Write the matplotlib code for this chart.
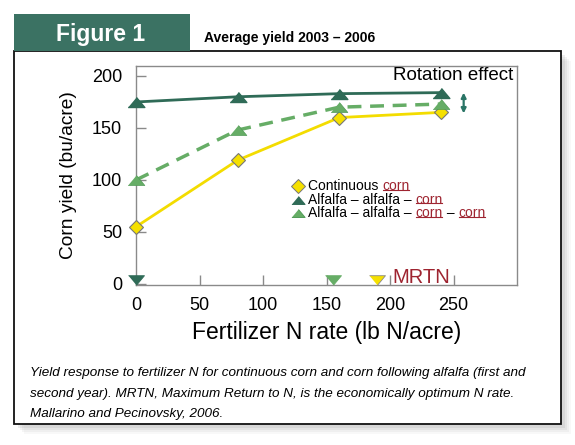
import matplotlib
matplotlib.use('Agg')
import matplotlib.pyplot as plt
from matplotlib.patches import Rectangle
from matplotlib.lines import Line2D

plt.rcParams['font.family'] = ['Liberation Sans', 'DejaVu Sans']

# data
n_rate = [0, 80, 160, 240]
continuous = [55, 119, 160, 165]
alf_corn = [175, 180, 183, 184]
alf_corn_corn = [100, 148, 170, 173]
mrtn_rate = {'alf_corn': 0, 'alf_corn_corn': 155, 'continuous': 190}

xticks = [0, 50, 100, 150, 200, 250]
yticks = [0, 50, 100, 150, 200]

yellow = '#f3dc00'
dark = '#2f6b57'
light = '#66ad66'
red = '#9e2430'
teal = '#3b7263'

tri_up = [(-1, -0.6), (1, -0.6), (0, 0.6)]
tri_dn = [(-1, 0.6), (1, 0.6), (0, -0.6)]

fig = plt.figure(figsize=(5.75, 4.45), dpi=100)
W, H = 575, 445

def fx(p):
    return p / W

def fy(p):
    return 1 - p / H

# drop shadow + frame + tab
for i, a in enumerate([0.05, 0.07, 0.09, 0.12]):
    d = 4 + (3 - i) * 2
    fig.patches.append(Rectangle((fx(14 + d), fy(424 + d)), fx(547), 373 / H,
                                 transform=fig.transFigure, facecolor='#7a7a7a',
                                 edgecolor='none', alpha=a, zorder=0))
fig.patches.append(Rectangle((fx(14), fy(424)), fx(547), 373 / H,
                             transform=fig.transFigure, facecolor='white',
                             edgecolor='#111111', lw=1.3, zorder=1))
fig.patches.append(Rectangle((fx(14), fy(51)), fx(176), 37 / H,
                             transform=fig.transFigure, facecolor=teal,
                             edgecolor='none', zorder=1))
fig.text(fx(101), fy(40.5), 'Figure 1', color='white', fontsize=16.5,
         fontweight='bold', ha='center', va='baseline')
fig.text(fx(204), fy(42), 'Average yield 2003 \u2013 2006',
         fontweight='bold', fontsize=10, ha='left', va='baseline')

ax = fig.add_axes([fx(136), fy(285), fx(381), 219 / H])
ax.set_zorder(2)
ax.set_xlim(0, 300)
ax.set_ylim(-1, 209.6)
for s in ax.spines.values():
    s.set_color('#8a8a8a')
    s.set_linewidth(1.0)
ax.set_xticks(xticks)
ax.set_yticks(yticks)
ax.tick_params(direction='in', length=7, width=1, color='#8a8a8a',
               labelsize=13, top=False, right=False)
ax.tick_params(axis='y', pad=10)
ax.tick_params(axis='x', pad=9)

ax.plot(n_rate, continuous, color=yellow, lw=2, zorder=3)
ax.plot(n_rate, continuous, ls='none', marker='D', ms=7.5, mfc='#f5e000',
        mec='#777777', mew=0.8, zorder=5, clip_on=False)
ax.plot(n_rate, alf_corn, color=dark, lw=2, zorder=3)
ax.plot(n_rate, alf_corn, ls='none', marker=tri_up, ms=12, mfc=dark,
        mec=dark, zorder=5, clip_on=False)
ax.plot(n_rate, alf_corn_corn, color=light, lw=2.5, ls=(0, (4, 2.5)), zorder=3)
ax.plot(n_rate, alf_corn_corn, ls='none', marker=tri_up, ms=12, mfc=light,
        mec='#4f9a55', mew=0.5, zorder=5, clip_on=False)

# MRTN markers along the bottom
for key, c in [('alf_corn', dark), ('alf_corn_corn', light), ('continuous', '#f5e000')]:
    ax.plot([mrtn_rate[key]], [3.6], ls='none', marker=tri_dn, ms=11.5, mfc=c,
            mec='#888888' if key == 'continuous' else c, mew=0.6, zorder=6,
            clip_on=False)
ax.text(202, 1.2, 'MRTN', color=red, fontsize=14.5, ha='left', va='baseline')

ax.text(0.99, 0.997, 'Rotation effect', transform=ax.transAxes, fontsize=13.5,
        ha='right', va='top')
ax.annotate('', xy=(258, 164), xytext=(258, 184),
            arrowprops=dict(arrowstyle='<|-|>', color='#2a7566', lw=1.6,
                            mutation_scale=7, shrinkA=0, shrinkB=0))

# legend, drawn by hand so "corn" can be red and underlined
rows = [
    ('D', '#f5e000', '#777777', ['Continuous ', ('corn',)]),
    (tri_up, dark, dark, ['Alfalfa \u2013 alfalfa \u2013 ', ('corn',)]),
    (tri_up, light, '#4f9a55', ['Alfalfa \u2013 alfalfa \u2013 ', ('corn',), ' \u2013 ', ('corn',)]),
]
row_y = [0.452, 0.390, 0.329]
red_texts = []
for (mk, fc, ec, parts), y in zip(rows, row_y):
    ax.plot([0.425], [y], transform=ax.transAxes, ls='none', marker=mk,
            ms=7 if mk == 'D' else 9.5, mfc=fc, mec=ec, mew=0.7, zorder=6)
    prev = None
    for p in parts:
        is_red = isinstance(p, tuple)
        s = p[0] if is_red else p
        col = red if is_red else 'black'
        if prev is None:
            t = ax.text(0.452, y, s, transform=ax.transAxes, fontsize=10,
                        color=col, ha='left', va='center')
        else:
            t = ax.annotate(s, xy=(1, 0), xycoords=prev, fontsize=10,
                            color=col, ha='left', va='bottom')
        if is_red:
            red_texts.append(t)
        prev = t

# caption
caption = ['Yield response to fertilizer N for continuous corn and corn following alfalfa (first and',
           'second year). MRTN, Maximum Return to N, is the economically optimum N rate.',
           'Mallarino and Pecinovsky, 2006.']
for i, line in enumerate(caption):
    fig.text(fx(30), fy(376 + 20.5 * i), line, style='italic',
             fontsize=9.7, ha='left', va='baseline')

ax.set_ylabel('Corn yield (bu/acre)', fontsize=13.8, labelpad=11)
ax.set_xlabel('Fertilizer N rate (lb N/acre)', fontsize=16.5, labelpad=5)

fig.canvas.draw()
r = fig.canvas.get_renderer()
inv = fig.transFigure.inverted()
for t in red_texts:
    bb = t.get_window_extent(r)
    (x0, y0), (x1, _) = inv.transform([(bb.x0, bb.y0 + 3.2), (bb.x1, bb.y0)])
    fig.lines.append(Line2D([x0 + 0.001, x1 - 0.001], [y0, y0],
                            transform=fig.transFigure, color=red, lw=0.8))

fig.savefig('out.png', dpi=100)
